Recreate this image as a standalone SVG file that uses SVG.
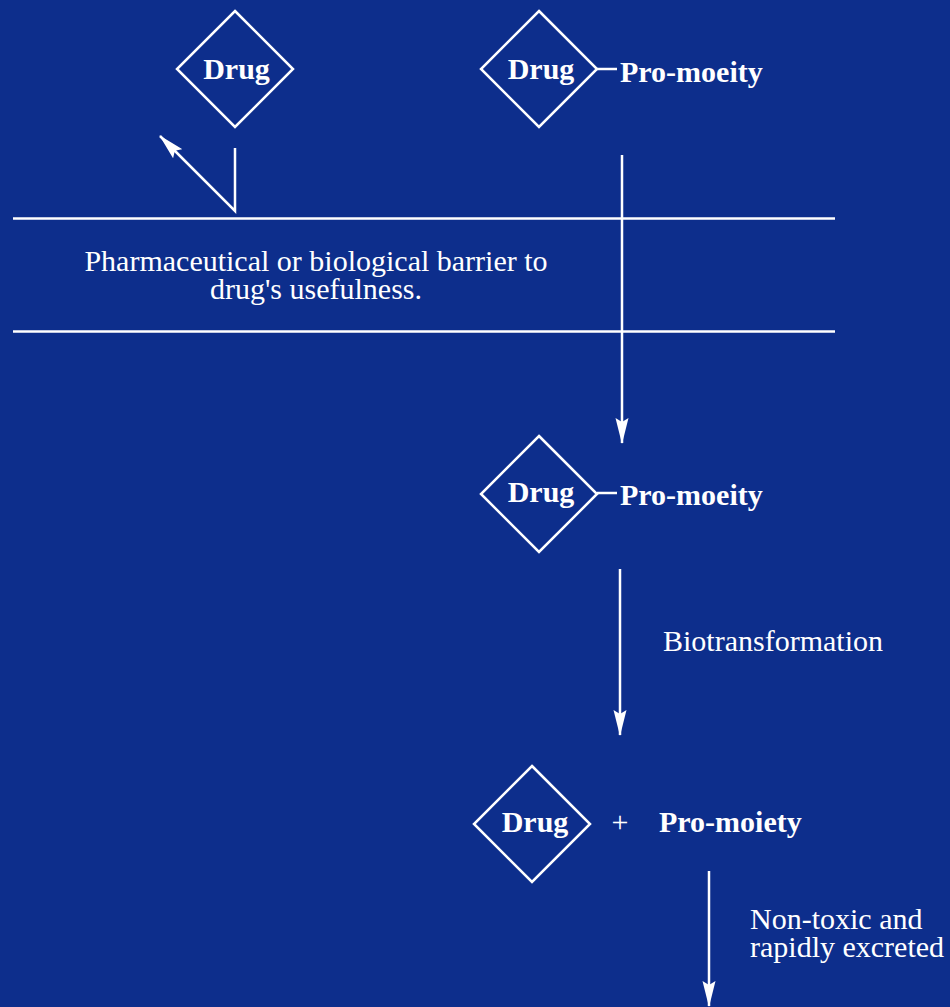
<svg xmlns="http://www.w3.org/2000/svg" width="950" height="1007" viewBox="0 0 950 1007">
  <style>
    .bg { fill: #0d2e8c; }
    .shape { fill: none; stroke: #ffffff; stroke-width: 2.5; }
    .wire { fill: none; stroke: #ffffff; stroke-width: 2.5; }
    .bold { font-family: "Liberation Serif", "Times New Roman", serif; font-weight: bold; font-size: 30px; fill: #ffffff; }
    .plain { font-family: "Liberation Serif", "Times New Roman", serif; font-size: 30px; fill: #ffffff; }
  </style>
  <defs>
    <marker id="head" viewBox="0 0 26 14" refX="25" refY="7" markerWidth="26" markerHeight="14" markerUnits="userSpaceOnUse" orient="auto">
      <path d="M0,0.5 L26,7 L0,13.5 L4,7 Z" fill="#ffffff"/>
    </marker>
  </defs>

  <rect class="bg" x="0" y="0" width="950" height="1007"/>

  <!-- barrier band -->
  <g id="barrier">
    <line class="wire" x1="13" y1="218.5" x2="835" y2="218.5"/>
    <line class="wire" x1="13" y1="331.5" x2="835" y2="331.5"/>
    <text class="plain" x="316" y="271" text-anchor="middle">Pharmaceutical or biological barrier to</text>
    <text class="plain" x="316" y="299" text-anchor="middle">drug's usefulness.</text>
  </g>

  <!-- plain drug, top left -->
  <g id="drug-plain">
    <polygon class="shape" points="235,11 293,69 235,127 177,69"/>
    <text class="bold" x="236.5" y="79" text-anchor="middle">Drug</text>
  </g>

  <!-- prodrug, before the barrier -->
  <g id="prodrug-top">
    <polygon class="shape" points="539,11 597,69 539,127 481,69"/>
    <text class="bold" x="541" y="79" text-anchor="middle">Drug</text>
    <line class="wire" x1="597" y1="69" x2="617" y2="69"/>
    <text class="bold" x="620" y="82">Pro-moeity</text>
  </g>

  <!-- prodrug, after the barrier -->
  <g id="prodrug-mid">
    <polygon class="shape" points="539,436 597,494 539,552 481,494"/>
    <text class="bold" x="541" y="502" text-anchor="middle">Drug</text>
    <line class="wire" x1="597" y1="493" x2="617" y2="493"/>
    <text class="bold" x="620" y="505">Pro-moeity</text>
  </g>

  <!-- released drug and pro-moiety -->
  <g id="products">
    <polygon class="shape" points="532,766 590,824 532,882 474,824"/>
    <text class="bold" x="535" y="832" text-anchor="middle">Drug</text>
    <text class="plain" x="620" y="832" text-anchor="middle">+</text>
    <text class="bold" x="659" y="832">Pro-moiety</text>
  </g>

  <!-- step labels -->
  <g id="labels">
    <text class="plain" x="663" y="651">Biotransformation</text>
    <text class="plain" x="750" y="929" font-size="29">Non-toxic and</text>
    <text class="plain" x="750" y="957" font-size="29">rapidly excreted</text>
  </g>

  <!-- connectors -->
  <g id="connectors">
    <polyline class="wire" points="235,148 235,211 160,136" marker-end="url(#head)"/>
    <line class="wire" x1="622" y1="155" x2="622" y2="443" marker-end="url(#head)"/>
    <line class="wire" x1="620" y1="569" x2="620" y2="735" marker-end="url(#head)"/>
    <line class="wire" x1="709" y1="871" x2="709" y2="1006" marker-end="url(#head)"/>
  </g>
</svg>
